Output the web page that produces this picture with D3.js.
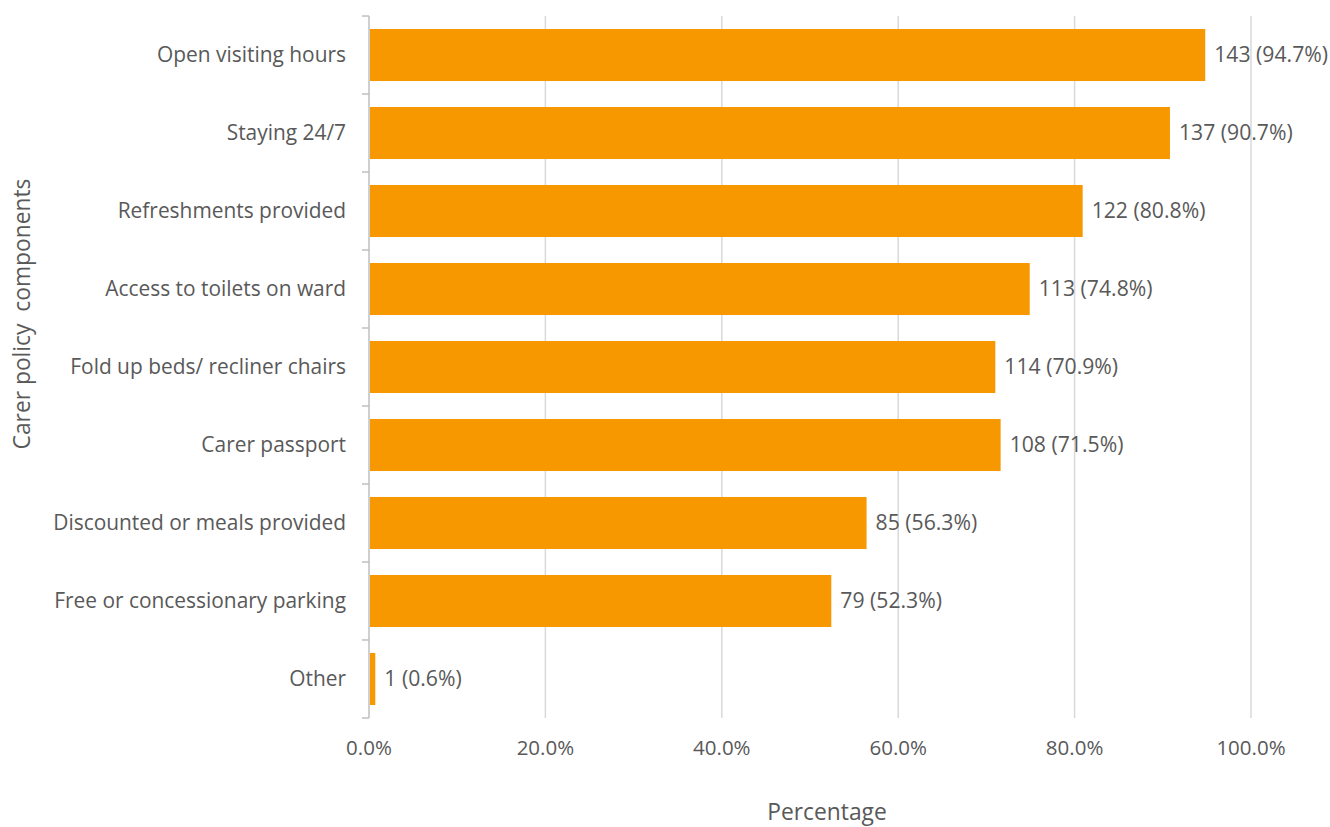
<!DOCTYPE html>
<html>
<head>
<meta charset="utf-8">
<script src="https://cdn.jsdelivr.net/npm/d3@7.9.0/dist/d3.min.js"></script>
<style>
  body { margin: 0; background: #fff; }
  svg { display: block; font-family: "Open Sans", sans-serif; }
</style>
</head>
<body>
<svg id="chart" width="1330" height="827"></svg>
<script>
const categories = [
  'Open visiting hours',
  'Staying 24/7',
  'Refreshments provided',
  'Access to toilets on ward',
  'Fold up beds/ recliner chairs',
  'Carer passport',
  'Discounted or meals provided',
  'Free or concessionary parking',
  'Other'
];
const counts = [143, 137, 122, 113, 114, 108, 85, 79, 1];
const percents = [94.7, 90.7, 80.8, 74.8, 70.9, 71.5, 56.3, 52.3, 0.6];
const xTicks = [0, 20, 40, 60, 80, 100];

const data = categories.map((c, i) => ({ label: c, count: counts[i], pct: percents[i] }));

const svg = d3.select('#chart');
const plotLeft = 369, plotRight = 1251, plotTop = 16, plotBottom = 718;
const textColor = '#595959';

let x = d3.scaleLinear().domain([0, 100]).range([plotLeft, plotRight]);
let y = d3.scaleBand().domain(categories).range([plotTop, plotBottom])
  .paddingInner(0.333).paddingOuter(0.1667);

// gridlines
svg.append('g')
  .selectAll('line')
  .data(xTicks.filter(t => t > 0))
  .join('line')
  .attr('x1', d => x(d)).attr('x2', d => x(d))
  .attr('y1', plotTop).attr('y2', plotBottom)
  .attr('stroke', '#d9d9d9')
  .attr('stroke-width', 1.5);

// bars
svg.append('g')
  .selectAll('rect')
  .data(data)
  .join('rect')
  .attr('x', x(0) + 1)
  .attr('y', d => y(d.label))
  .attr('width', d => x(d.pct) - x(0))
  .attr('height', y.bandwidth())
  .attr('fill', '#f79800');

// y axis line + ticks at band boundaries
let yAxis = svg.append('g');
yAxis.append('line')
  .attr('x1', plotLeft).attr('x2', plotLeft)
  .attr('y1', plotTop).attr('y2', plotBottom)
  .attr('stroke', '#bfbfbf').attr('stroke-width', 1.5);
let bounds = categories.map(c => y(c) - y.step() * y.paddingInner() / 2);
bounds.push(plotBottom);
yAxis.selectAll('.tk')
  .data(bounds)
  .join('line')
  .attr('class', 'tk')
  .attr('x1', plotLeft - 7).attr('x2', plotLeft)
  .attr('y1', d => d).attr('y2', d => d)
  .attr('stroke', '#bfbfbf').attr('stroke-width', 1.5);

// category labels
svg.append('g')
  .selectAll('text')
  .data(data)
  .join('text')
  .attr('x', plotLeft - 23)
  .attr('y', d => y(d.label) + y.bandwidth() / 2)
  .attr('dy', '0.35em')
  .attr('text-anchor', 'end')
  .attr('font-size', 20.9)
  .attr('fill', textColor)
  .text(d => d.label);

// value labels
svg.append('g')
  .selectAll('text')
  .data(data)
  .join('text')
  .attr('x', d => x(d.pct) + 10)
  .attr('y', d => y(d.label) + y.bandwidth() / 2)
  .attr('dy', '0.35em')
  .attr('font-size', 21.2)
  .attr('fill', textColor)
  .text(d => `${d.count} (${d.pct.toFixed(1)}%)`);

// x tick labels
svg.append('g')
  .selectAll('text')
  .data(xTicks)
  .join('text')
  .attr('x', d => x(d))
  .attr('y', 748)
  .attr('dy', '0.35em')
  .attr('text-anchor', 'middle')
  .attr('font-size', 20.5)
  .attr('fill', textColor)
  .text(d => d.toFixed(1) + '%');

// axis titles
svg.append('text')
  .attr('x', 827).attr('y', 812)
  .attr('dy', '0.35em')
  .attr('text-anchor', 'middle')
  .attr('font-size', 22.8)
  .attr('fill', textColor)
  .text('Percentage');

svg.append('text')
  .attr('transform', 'translate(22,314) rotate(-90)')
  .attr('dy', '0.35em')
  .attr('text-anchor', 'middle')
  .attr('font-size', 22.8)
  .attr('fill', textColor)
  .attr('style', 'white-space: pre')
  .text('Carer policy  components');
</script>
</body>
</html>
